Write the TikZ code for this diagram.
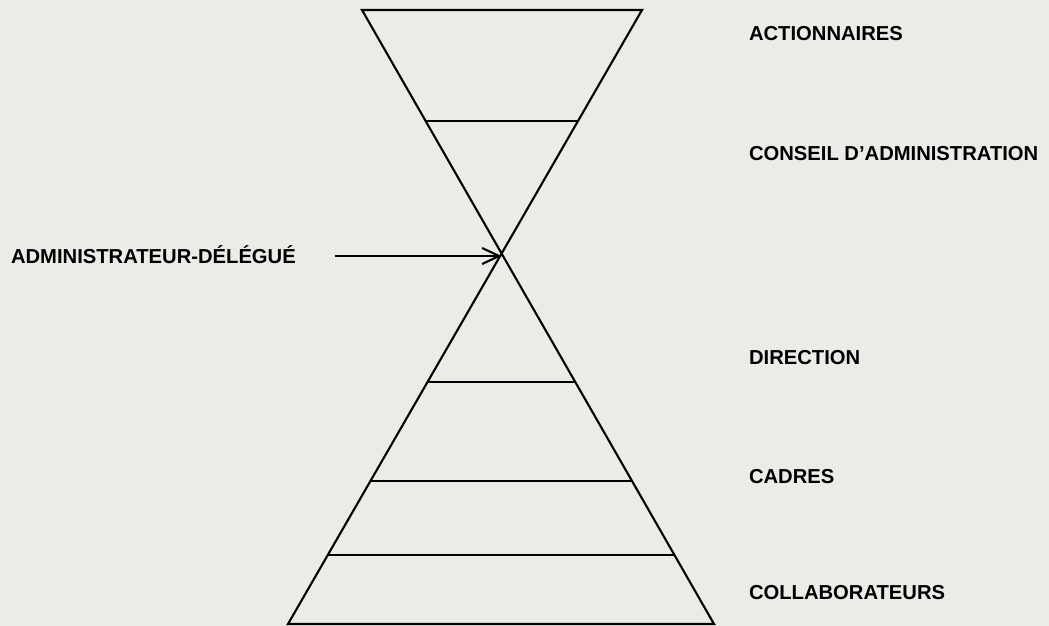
\documentclass[tikz,border=0pt]{standalone}
\usepackage{fontspec}
\setmainfont{Liberation Sans}
\usetikzlibrary{arrows.meta,calc}
\definecolor{paper}{RGB}{235,235,232}

\begin{document}
\begin{tikzpicture}[x=0.02cm,y=-0.02cm,line width=1.2pt,
  lbl/.style={anchor=west,inner sep=0pt,text height=8.2pt,text depth=0pt,
    font=\fontsize{11.5}{13}\selectfont\bfseries}]
  \fill[paper] (0,0) rectangle (1049,626);
  \useasboundingbox (0,0) rectangle (1049,626);
  \coordinate (tl) at (362,10);
  \coordinate (tr) at (642,10);
  \coordinate (bl) at (288,624);
  \coordinate (br) at (714,624);
  \coordinate (cross) at (intersection of tl--br and tr--bl);
  \draw (tl) -- (tr) -- (bl) -- (br) -- cycle;
  \foreach \t in {0.181, 0.606, 0.767, 0.888} {
    \draw ($(tl)!\t!(br)$) -- ($(tr)!\t!(bl)$);
  }
  \node[lbl] (actionnaires) at (748,33) {ACTIONNAIRES};
  \node[lbl] (conseil) at (748,153) {CONSEIL D’ADMINISTRATION};
  \node[lbl] (direction) at (748,357) {DIRECTION};
  \node[lbl] (cadres) at (748,476) {CADRES};
  \node[lbl] (collab) at (748,592) {COLLABORATEURS};
  \node[lbl] (admin) at (10,256) {ADMINISTRATEUR-DÉLÉGUÉ};
  \draw[-{Straight Barb[length=3.4mm,width=3.2mm]},shorten <=0.76cm]
    (admin.east) -- (admin.east -| cross);
\end{tikzpicture}
\end{document}
